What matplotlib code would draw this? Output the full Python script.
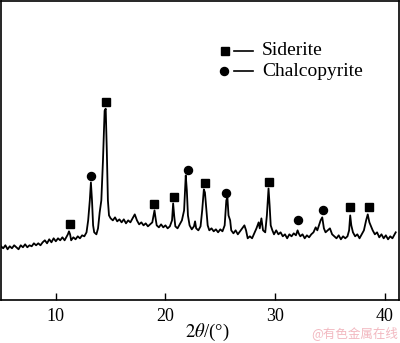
import matplotlib
matplotlib.use("Agg")
import matplotlib.pyplot as plt

plt.rcParams["font.family"] = ["Liberation Serif", "DejaVu Serif"]
plt.rcParams["mathtext.fontset"] = "stix"

# XRD pattern (intensity in arbitrary units)
two_theta = [5.0, 5.2, 5.4, 5.6, 5.8, 6.0, 6.2, 6.4, 6.6, 6.8, 7.0, 7.2, 7.4, 7.6, 7.8, 8.0,
             8.2, 8.4, 8.6, 8.8, 9.0, 9.2, 9.4, 9.6, 9.8, 10.0, 10.2, 10.4, 10.6, 10.8, 11.0,
             11.1, 11.2, 11.3, 11.4, 11.6, 11.8, 12.0, 12.2, 12.4, 12.6, 12.8, 12.95, 13.1,
             13.2, 13.3, 13.4, 13.5, 13.7, 13.85, 14.0, 14.15, 14.3, 14.45, 14.55, 14.65,
             14.75, 14.85, 15.0, 15.2, 15.4, 15.6, 15.8, 16.0, 16.2, 16.4, 16.6, 16.8, 17.0,
             17.2, 17.4, 17.6, 17.8, 18.0, 18.2, 18.4, 18.6, 18.8, 19.0, 19.1, 19.2, 19.4,
             19.6, 19.8, 20.0, 20.2, 20.4, 20.6, 20.7, 20.8, 20.9, 21.1, 21.3, 21.5, 21.7,
             21.85, 21.95, 22.05, 22.2, 22.4, 22.6, 22.7, 22.8, 23.0, 23.2, 23.35, 23.5, 23.6,
             23.7, 23.85, 24.0, 24.2, 24.4, 24.6, 24.8, 25.0, 25.2, 25.4, 25.55, 25.65, 25.75,
             25.9, 26.0, 26.2, 26.4, 26.6, 26.8, 27.0, 27.2, 27.35, 27.5, 27.7, 27.9, 28.1,
             28.3, 28.5, 28.6, 28.75, 28.9, 29.1, 29.25, 29.4, 29.5, 29.6, 29.75, 29.9, 30.1,
             30.3, 30.5, 30.7, 30.9, 31.1, 31.3, 31.5, 31.7, 31.9, 32.05, 32.15, 32.3, 32.5,
             32.7, 32.9, 33.1, 33.3, 33.5, 33.7, 33.85, 34.0, 34.15, 34.3, 34.45, 34.6, 34.8,
             35.0, 35.2, 35.4, 35.6, 35.8, 36.0, 36.2, 36.4, 36.6, 36.75, 36.85, 36.95, 37.1,
             37.3, 37.5, 37.7, 37.9, 38.1, 38.3, 38.45, 38.6, 38.75, 38.9, 39.1, 39.3, 39.5,
             39.7, 39.9, 40.1, 40.3, 40.5, 40.7, 40.9, 41.0]
intensity = [54, 52, 55, 51, 54, 52, 55, 53, 51, 55, 53, 56, 53, 55, 54, 57,
             55, 57, 55, 58, 60, 57, 61, 58, 62, 59, 62, 60, 63, 60, 64,
             66, 69, 66, 60, 63, 61, 64, 62, 65, 64, 68, 80, 100,
             118, 100, 75, 68, 66, 72, 88, 100, 140, 190, 192, 150,
             100, 85, 82, 80, 83, 79, 81, 78, 81, 77, 80, 78, 82,
             86, 80, 76, 78, 75, 77, 74, 76, 78, 90, 82, 75, 73,
             76, 73, 75, 72, 74, 80, 97, 84, 74, 72, 76, 80, 90,
             125, 110, 85, 75, 71, 74, 79, 72, 70, 74, 90, 111, 108,
             95, 75, 70, 72, 69, 71, 68, 71, 69, 75, 100, 103, 85,
             80, 70, 67, 70, 66, 69, 72, 75, 70, 62, 64, 62, 67,
             72, 78, 72, 82, 70, 68, 85, 112, 95, 75, 70, 66, 70,
             66, 68, 64, 66, 62, 66, 64, 67, 65, 70, 67, 64, 66,
             62, 65, 63, 66, 68, 73, 70, 75, 80, 83, 72, 68, 70,
             72, 66, 64, 62, 65, 61, 64, 62, 64, 70, 85, 75, 68,
             64, 66, 62, 66, 70, 80, 86, 78, 74, 70, 66, 68, 63,
             66, 62, 65, 61, 64, 62, 66, 68]

# phase markers
siderite_x = [11.27, 14.55, 19.0, 20.75, 23.6, 29.45, 36.85, 38.55]
siderite_y = [76, 199, 96, 103, 117, 118, 93, 93]
chalco_x = [13.18, 22.1, 25.55, 32.1, 34.36]
chalco_y = [124, 131, 107, 80, 90]

fig = plt.figure(figsize=(4.0, 3.43), dpi=100)
ax = fig.add_axes([0.0025, 0.125, 0.995, 0.872])

ax.plot(two_theta, intensity, color="black", linewidth=1.3)
ax.plot(siderite_x, siderite_y, "s", color="black", markersize=5.2, linestyle="none")
ax.plot(chalco_x, chalco_y, "o", color="black", markersize=5.8, linestyle="none")

# legend drawn by hand
ax.plot([0.563], [0.833], "s", color="black", markersize=5.2, transform=ax.transAxes)
ax.plot([0.561], [0.766], "o", color="black", markersize=5.8, transform=ax.transAxes)
ax.plot([0.585, 0.633], [0.833, 0.833], color="black", linewidth=1.2, transform=ax.transAxes)
ax.plot([0.585, 0.633], [0.766, 0.766], color="black", linewidth=1.2, transform=ax.transAxes)
ax.text(0.656, 0.833, "Siderite", fontsize=14, va="center", transform=ax.transAxes)
ax.text(0.656, 0.766, "Chalcopyrite", fontsize=14, va="center", transform=ax.transAxes)

ax.set_xlim(5, 41.3)
ax.set_ylim(0, 300)
ax.set_xticks([10, 20, 30, 40])
ax.set_yticks([])
ax.tick_params(axis="x", direction="in", length=5, width=1, labelsize=13, pad=6)
for s in ax.spines.values():
    s.set_linewidth(1.2)

fig.text(0.518, 0.03, r"$2\theta$/(°)", fontsize=13.5, ha="center", va="center")
fig.text(0.887, 0.03, "@有色金属在线", fontsize=9, color="#f2b8c0", ha="center",
         va="center", family=["Noto Sans CJK SC", "DejaVu Sans"])

fig.savefig("out.png", dpi=100)
